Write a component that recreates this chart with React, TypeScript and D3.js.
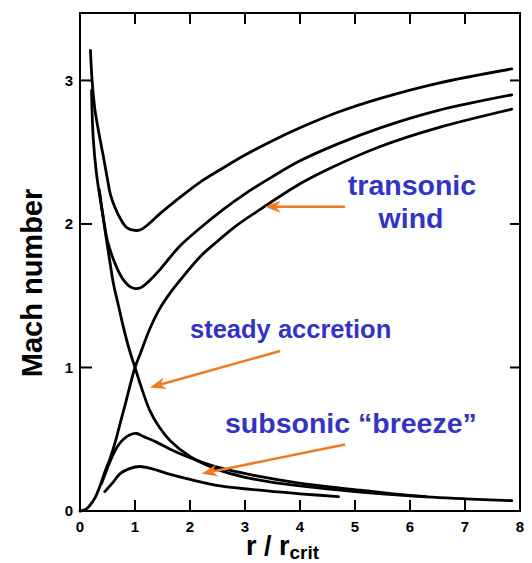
import React from "react";
import * as d3 from "d3";

// ---- data ----
const xTicks = [0, 1, 2, 3, 4, 5, 6, 7, 8];
const yTicks = [0, 1, 2, 3];

// upper supersonic curve (min ~1.96)
const curveTopR = [0.19, 0.22, 0.27, 0.34, 0.42, 0.5, 0.55, 0.63, 0.73, 0.85, 1.0, 1.1, 1.25, 1.45, 1.8, 2.18, 2.6, 3.0, 3.5, 4.0, 4.7, 5.46, 6.5, 7.85];
const curveTopM = [3.21, 3.0, 2.8, 2.64, 2.48, 2.31, 2.21, 2.12, 2.04, 1.975, 1.955, 1.96, 2.0, 2.07, 2.18, 2.29, 2.39, 2.48, 2.58, 2.67, 2.78, 2.875, 2.98, 3.08];

// second supersonic curve (min ~1.55)
const curveMidR = [0.21, 0.24, 0.3, 0.42, 0.5, 0.61, 0.7, 0.79, 0.9, 1.0, 1.1, 1.25, 1.45, 1.8, 2.18, 2.6, 3.0, 3.5, 4.0, 4.7, 5.46, 6.5, 7.85];
const curveMidM = [2.93, 2.6, 2.35, 2.05, 1.88, 1.75, 1.67, 1.61, 1.565, 1.55, 1.555, 1.6, 1.68, 1.84, 1.97, 2.1, 2.21, 2.33, 2.44, 2.56, 2.67, 2.79, 2.9];

// transonic wind
const windR = [0.0, 0.1, 0.18, 0.27, 0.36, 0.45, 0.55, 0.64, 0.73, 0.82, 0.9, 1.0, 1.1, 1.27, 1.45, 1.64, 1.9, 2.18, 2.5, 2.85, 3.27, 4.0, 4.5, 5.46, 6.5, 7.85];
const windM = [0.0, 0.01, 0.04, 0.09, 0.17, 0.27, 0.37, 0.48, 0.61, 0.74, 0.86, 1.0, 1.1, 1.27, 1.41, 1.52, 1.645, 1.77, 1.88, 1.99, 2.1, 2.28, 2.38, 2.54, 2.67, 2.8];

// steady accretion
const accR = [0.35, 0.45, 0.55, 0.61, 0.7, 0.79, 0.9, 1.0, 1.1, 1.27, 1.45, 1.64, 2.0, 2.5, 3.0, 3.5, 4.0, 5.0, 6.0, 7.0, 7.85];
const accM = [2.24, 1.97, 1.72, 1.58, 1.43, 1.28, 1.12, 1.0, 0.88, 0.7, 0.58, 0.49, 0.38, 0.29, 0.235, 0.2, 0.175, 0.135, 0.105, 0.085, 0.072];

// subsonic breezes
const breeze1R = [0.39, 0.5, 0.61, 0.7, 0.79, 0.9, 1.03, 1.15, 1.39, 1.64, 1.94, 2.55, 3.21, 3.9, 4.5, 5.1, 5.7, 6.3];
const breeze1M = [0.19, 0.3, 0.4, 0.46, 0.5, 0.53, 0.54, 0.52, 0.48, 0.43, 0.38, 0.3, 0.245, 0.2, 0.17, 0.145, 0.12, 0.1];
const breeze2R = [0.45, 0.6, 0.73, 0.9, 1.09, 1.3, 1.64, 2.0, 2.55, 3.4, 4.0, 4.7];
const breeze2M = [0.135, 0.2, 0.26, 0.295, 0.31, 0.295, 0.255, 0.22, 0.175, 0.14, 0.12, 0.1];

const W = 532;
const H = 563;

const x = d3.scaleLinear().domain([0, 8]).range([80, 520]);
const y = d3.scaleLinear().domain([0, 3.47]).range([511, 13]);

const line = d3
  .line<[number, number]>()
  .x((d) => x(d[0]))
  .y((d) => y(d[1]))
  .curve(d3.curveCatmullRom.alpha(0.5));

const zip = (a: number[], b: number[]) => a.map((v, i) => [v, b[i]] as [number, number]);

const curves = [
  zip(curveTopR, curveTopM),
  zip(curveMidR, curveMidM),
  zip(windR, windM),
  zip(accR, accM),
  zip(breeze1R, breeze1M),
  zip(breeze2R, breeze2M),
];

const ORANGE = "#f07a22";
const BLUE = "#3434c4";

// arrows: [fromR, fromM, toR, toM]
const arrows: [number, number, number, number][] = [
  [4.82, 2.12, 3.36, 2.12],
  [3.64, 1.115, 1.27, 0.86],
  [4.82, 0.464, 2.21, 0.26],
];

function Arrow({ a }: { a: [number, number, number, number] }) {
  const x1 = x(a[0]), y1 = y(a[1]), x2 = x(a[2]), y2 = y(a[3]);
  const ang = Math.atan2(y2 - y1, x2 - x1);
  const len = 16, half = 6, back = 11;
  const ux = Math.cos(ang), uy = Math.sin(ang);
  const px = -uy, py = ux;
  const p1 = [x2 - ux * len + px * half, y2 - uy * len + py * half];
  const p2 = [x2 - ux * len - px * half, y2 - uy * len - py * half];
  const pm = [x2 - ux * back, y2 - uy * back];
  return (
    <g>
      <line x1={x1} y1={y1} x2={pm[0]} y2={pm[1]} stroke={ORANGE} strokeWidth={2.6} />
      <path d={`M${x2},${y2}L${p1[0]},${p1[1]}L${pm[0]},${pm[1]}L${p2[0]},${p2[1]}Z`} fill={ORANGE} />
    </g>
  );
}

export default function App() {
  const font = "'Liberation Sans', Arial, Helvetica, sans-serif";
  return (
    <svg
      width={W}
      height={H}
      style={{ position: "absolute", left: 0, top: 0, display: "block", background: "#fff" }}
      fontFamily={font}
    >
      {/* frame */}
      <rect x={x(0)} y={y(3.47)} width={x(8) - x(0)} height={y(0) - y(3.47)} fill="none" stroke="#000" strokeWidth={2} />
      {/* ticks */}
      {xTicks.slice(1, -1).map((t) => (
        <g key={"xt" + t}>
          <line x1={x(t)} x2={x(t)} y1={y(0)} y2={y(0) - 11} stroke="#000" strokeWidth={2} />
          <line x1={x(t)} x2={x(t)} y1={y(3.47)} y2={y(3.47) + 11} stroke="#000" strokeWidth={2} />
        </g>
      ))}
      {yTicks.slice(1).map((t) => (
        <g key={"yt" + t}>
          <line x1={x(0)} x2={x(0) + 12} y1={y(t)} y2={y(t)} stroke="#000" strokeWidth={2} />
          <line x1={x(8)} x2={x(8) - 10} y1={y(t)} y2={y(t)} stroke="#000" strokeWidth={2} />
        </g>
      ))}
      {xTicks.map((t) => (
        <text key={"xl" + t} x={x(t)} y={532} textAnchor="middle" fontSize={15} fontWeight="bold">
          {t}
        </text>
      ))}
      {yTicks.map((t) => (
        <text key={"yl" + t} x={73} y={y(t)} dy="0.36em" textAnchor="end" fontSize={15} fontWeight="bold">
          {t}
        </text>
      ))}
      {/* axis titles */}
      <text transform="translate(42,283) rotate(-90)" textAnchor="middle" fontSize={29} fontWeight="bold">
        Mach number
      </text>
      <text x={246} y={555} fontSize={27} fontWeight="bold">
        r / r<tspan fontSize={19} dy={4}>crit</tspan>
      </text>
      {/* curves */}
      {curves.map((c, i) => (
        <path key={"c" + i} d={line(c) || ""} fill="none" stroke="#000" strokeWidth={2.8} strokeLinecap="round" />
      ))}
      {/* annotations */}
      {arrows.map((a, i) => (
        <Arrow key={"a" + i} a={a} />
      ))}
      <text x={412} y={195} textAnchor="middle" fontSize={28.5} fontWeight="bold" fill={BLUE}>
        transonic
      </text>
      <text x={411} y={228} textAnchor="middle" fontSize={28.5} fontWeight="bold" fill={BLUE}>
        wind
      </text>
      <text x={190} y={338} fontSize={25.5} fontWeight="bold" fill={BLUE}>
        steady accretion
      </text>
      <text x={225} y={433} fontSize={28.5} fontWeight="bold" fill={BLUE}>
        subsonic “breeze”
      </text>
    </svg>
  );
}
